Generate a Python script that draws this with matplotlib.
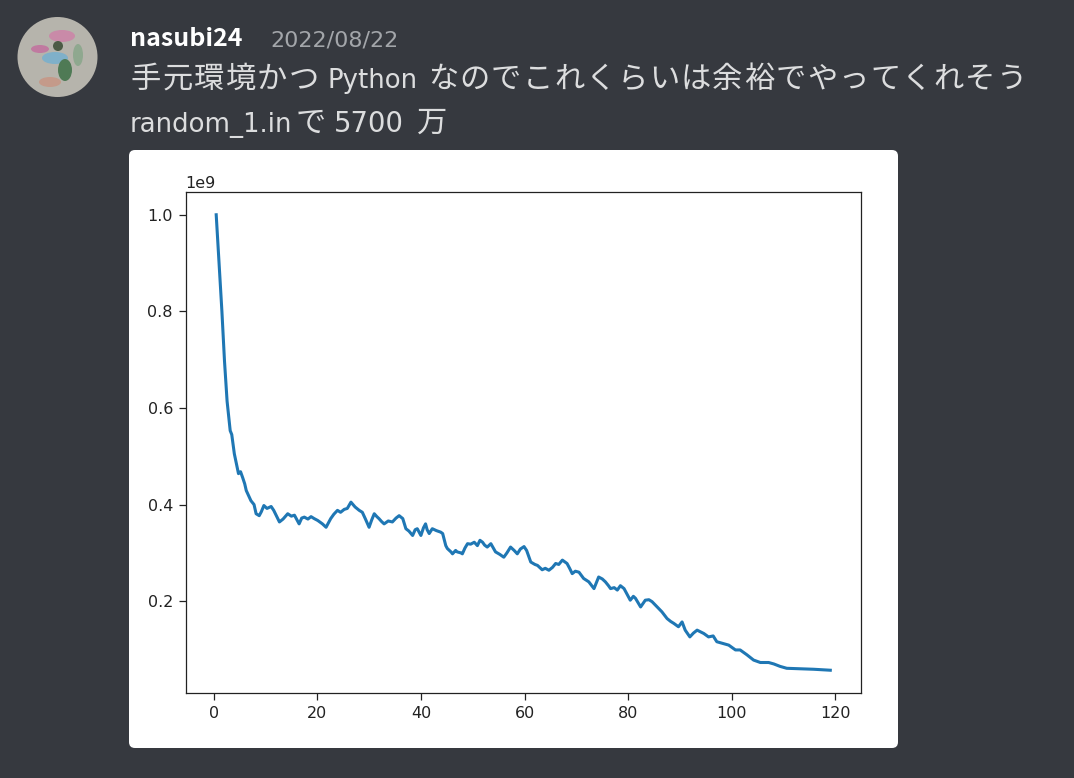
import matplotlib
matplotlib.use("Agg")
import matplotlib.pyplot as plt
from matplotlib.patches import FancyBboxPatch, Circle, Ellipse

plt.rcParams['font.family'] = ['DejaVu Sans']

# ---- data ----
step_time = [0.5, 1.1, 1.6, 2.1, 2.6, 3.2, 3.5, 4.0, 4.8, 5.2, 5.6, 6.0, 6.3, 7.2, 7.8,
             8.2, 8.8, 9.2, 9.7, 10.3, 11.1, 11.6, 12.7, 13.4, 14.3, 15.0, 15.6, 16.5,
             17.0, 17.5, 18.2, 18.8, 19.4, 20.1, 21.0, 21.7, 22.6, 23.2, 23.9, 24.5,
             25.2, 25.8, 26.5, 27.3, 28.1, 28.7, 29.3, 30.0, 30.5, 31.0, 31.5, 31.9,
             32.4, 32.9, 33.7, 34.5, 35.2, 35.8, 36.5, 37.1, 37.7, 38.4, 38.9, 39.3,
             40.0, 40.5, 40.9, 41.2, 41.6, 42.2, 43.0, 43.8, 44.2, 44.8, 45.1, 45.8,
             46.1, 46.7, 47.0, 47.7, 48.0, 48.5, 49.0, 49.6, 50.3, 50.9, 51.4, 51.9,
             52.3, 52.8, 53.5, 54.4, 55.2, 56.0, 56.6, 57.3, 58.0, 58.6, 59.2, 59.9,
             60.4, 61.2, 62.0, 62.5, 63.4, 64.0, 64.7, 65.4, 66.0, 66.6, 67.3, 68.2,
             68.7, 69.2, 69.8, 70.5, 71.4, 72.4, 73.4, 74.3, 75.0, 75.6, 76.2, 76.6,
             77.3, 77.9, 78.5, 79.2, 80.4, 81.0, 81.4, 82.4, 83.3, 84.0, 84.6, 85.6,
             86.5, 87.5, 88.2, 88.8, 89.7, 90.4, 91.0, 91.9, 92.6, 93.3, 94.6, 95.5,
             96.4, 97.1, 98.1, 99.4, 100.7, 101.6, 102.9, 104.2, 105.5, 107.1, 108.1,
             109.3, 110.6, 113.2, 115.8, 119.0]
score_e9 = [1.000, 0.889, 0.800, 0.697, 0.614, 0.553, 0.545, 0.505, 0.464, 0.468, 0.456,
            0.443, 0.429, 0.408, 0.400, 0.381, 0.377, 0.385, 0.398, 0.392, 0.396, 0.388,
            0.364, 0.370, 0.381, 0.376, 0.378, 0.360, 0.372, 0.374, 0.370, 0.375, 0.371,
            0.367, 0.360, 0.353, 0.371, 0.380, 0.388, 0.384, 0.390, 0.392, 0.405, 0.395,
            0.388, 0.384, 0.370, 0.353, 0.368, 0.381, 0.375, 0.371, 0.365, 0.360, 0.366,
            0.364, 0.372, 0.377, 0.371, 0.350, 0.345, 0.336, 0.348, 0.350, 0.336, 0.352,
            0.360, 0.348, 0.340, 0.350, 0.346, 0.343, 0.340, 0.315, 0.309, 0.302, 0.298,
            0.305, 0.302, 0.300, 0.298, 0.310, 0.319, 0.318, 0.322, 0.315, 0.326, 0.322,
            0.316, 0.312, 0.319, 0.302, 0.297, 0.291, 0.300, 0.312, 0.305, 0.298, 0.308,
            0.313, 0.305, 0.281, 0.276, 0.274, 0.265, 0.268, 0.264, 0.270, 0.278, 0.276,
            0.285, 0.278, 0.268, 0.257, 0.262, 0.260, 0.247, 0.240, 0.226, 0.250, 0.246,
            0.240, 0.232, 0.226, 0.228, 0.223, 0.232, 0.226, 0.202, 0.210, 0.206, 0.188,
            0.202, 0.203, 0.199, 0.188, 0.178, 0.164, 0.158, 0.154, 0.147, 0.157, 0.140,
            0.126, 0.134, 0.140, 0.133, 0.126, 0.128, 0.116, 0.113, 0.109, 0.099, 0.099,
            0.089, 0.078, 0.073, 0.073, 0.070, 0.065, 0.061, 0.060, 0.059, 0.057]
score = [v * 1e9 for v in score_e9]

user_name = "nasubi24"
post_date = "2022/08/22"
# message split into (text, is_cjk) segments
msg_line1 = [("手元環境かつ", True), ("Python", False),
             ("なのでこれくらいは余裕でやってくれそう", True)]
msg_line2 = [("random_1.in", False), ("で", True), ("5700", False), ("万", True)]
line1_x = [130, 327.5, 427]
line2_x = [129.5, 294.5, 334, 416]

# ---- figure ----
W, H = 1074, 778
fig = plt.figure(figsize=(W / 100, H / 100), dpi=100)
fig.patch.set_facecolor('#36393f')

bg = fig.add_axes([0, 0, 1, 1])
bg.set_xlim(0, W)
bg.set_ylim(H, 0)
bg.axis('off')

# avatar
av = Circle((57.5, 57), 40, facecolor='#b6b4ac', edgecolor='none')
bg.add_patch(av)
for (cx, cy, w, h, c) in [(62, 36, 26, 12, '#c98aa8'), (40, 49, 18, 8, '#c07aa0'),
                          (55, 58, 26, 12, '#7fb0c9'), (65, 70, 14, 22, '#4f7a55'),
                          (50, 82, 22, 10, '#c49a8a'), (78, 55, 10, 22, '#8fa88f'),
                          (58, 46, 10, 10, '#4b5b45')]:
    e = Ellipse((cx, cy), w, h, facecolor=c, edgecolor='none')
    e.set_clip_path(av)
    bg.add_patch(e)

cjk = ['Noto Sans CJK JP', 'DejaVu Sans']
bg.text(130, 46, user_name, fontsize=18, fontweight='bold', color='#ffffff',
        family=cjk, va='baseline', ha='left')
bg.text(270, 46, post_date, fontsize=16, color='#a3a6aa',
        family=['DejaVu Sans'], va='baseline', ha='left')

CJK_ADV = 31.6
TXT = '#dcddde'


def put_line(segments, xs, base):
    for (seg, is_cjk), x in zip(segments, xs):
        if is_cjk:
            for i, ch in enumerate(seg):
                bg.text(x + (i + 0.5) * CJK_ADV, base, ch, fontsize=21.8, color=TXT,
                        family=cjk, va='baseline', ha='center')
        else:
            fs = 19.8 if seg.isdigit() else 18.7
            bg.text(x, base, seg, fontsize=fs, color=TXT,
                    family=['DejaVu Sans'], va='baseline', ha='left')


put_line(msg_line1, line1_x, 88)
put_line(msg_line2, line2_x, 131.5)

card = FancyBboxPatch((129, 150), 769, 598, boxstyle="round,pad=0,rounding_size=6",
                      facecolor='white', edgecolor='none')
bg.add_patch(card)

# ---- chart ----
ax = fig.add_axes([185.5 / W, 1 - 693 / H, (861 - 185.5) / W, (693 - 192) / H])
ax.plot(step_time, score, color='#1f77b4', lw=2.2)
ax.tick_params(labelsize=11.5, length=5, width=0.9, colors='#222222', pad=4)
for s in ax.spines.values():
    s.set_linewidth(0.9)
    s.set_color('#222222')
ax.yaxis.get_offset_text().set_fontsize(11.5)
ax.set_xticks([0, 20, 40, 60, 80, 100, 120])

fig.savefig('out.png', dpi=100, facecolor=fig.get_facecolor())
